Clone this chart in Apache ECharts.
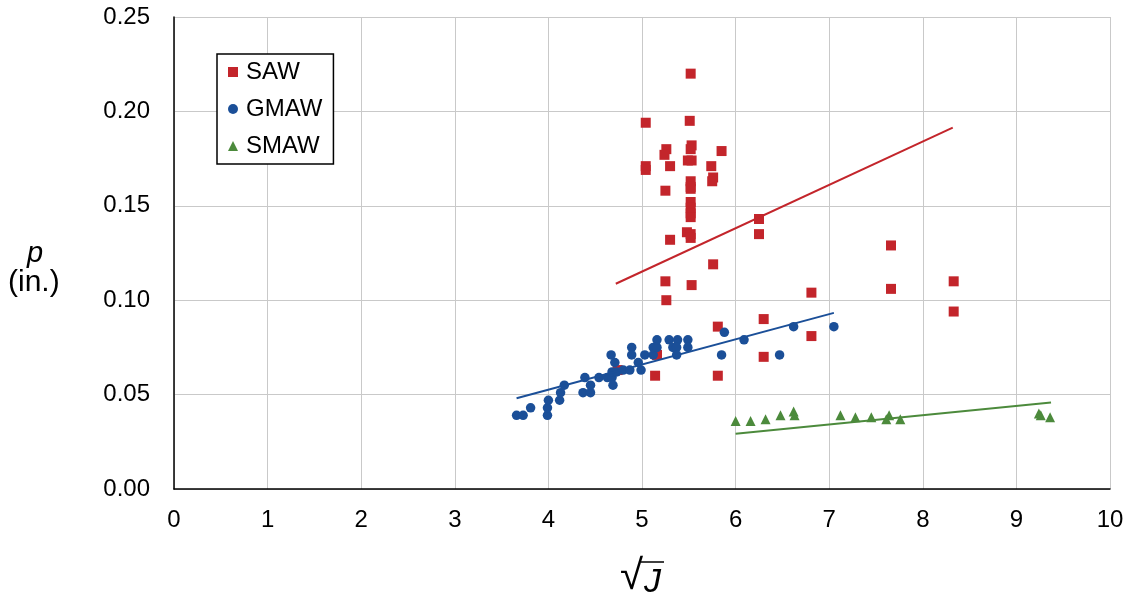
<!DOCTYPE html>
<html>
<head>
<meta charset="utf-8">
<script src="https://cdn.jsdelivr.net/npm/echarts@6/dist/echarts.min.js"></script>
<style>
  html, body { margin: 0; padding: 0; background: #fff; }
  #chart { width: 1130px; height: 597px; }
</style>
</head>
<body>
<div id="chart"></div>
<script>
// sqrt(J) vs p (in.)
var xTicks = [0, 1, 2, 3, 4, 5, 6, 7, 8, 9, 10];
var yTicks = [0, 0.05, 0.10, 0.15, 0.20, 0.25];

var sawX = [5.52, 5.04, 5.51, 5.53, 5.52, 5.26, 5.24, 5.49, 5.53, 5.85, 5.04, 5.04, 5.30, 5.74, 5.76, 5.75,
            5.52, 5.52, 5.52, 5.25, 5.52, 5.52, 5.52, 5.52, 5.48, 5.52, 5.52, 5.30, 6.25, 6.25, 5.76, 5.25,
            5.53, 5.26, 7.66, 7.66, 8.33, 8.33, 6.81, 6.30, 5.81, 6.81, 6.30, 5.81, 5.14, 5.16, 4.74];
var sawY = [0.220, 0.194, 0.195, 0.182, 0.180, 0.180, 0.177, 0.174, 0.174, 0.179, 0.171, 0.169, 0.171, 0.171, 0.165, 0.163,
            0.163, 0.160, 0.159, 0.158, 0.152, 0.149, 0.146, 0.144, 0.136, 0.135, 0.133, 0.132, 0.143, 0.135, 0.119, 0.110,
            0.108, 0.100, 0.129, 0.106, 0.110, 0.094, 0.104, 0.090, 0.086, 0.081, 0.070, 0.060, 0.060, 0.071, 0.063];

var gmawX = [3.66, 3.73, 3.81, 3.99, 3.99, 4.00, 4.12, 4.13, 4.17, 4.37, 4.45, 4.45, 4.39, 4.54, 4.63, 4.68,
             4.69, 4.68, 4.73, 4.71, 4.67, 4.80, 4.87, 4.96, 4.99, 4.89, 4.89, 5.03, 5.12, 5.12, 5.16, 5.16,
             5.29, 5.38, 5.49, 5.33, 5.37, 5.49, 5.37, 5.88, 5.85, 6.09, 6.62, 6.47, 7.05];
var gmawY = [0.039, 0.039, 0.043, 0.039, 0.043, 0.047, 0.047, 0.051, 0.055, 0.051, 0.051, 0.055, 0.059, 0.059, 0.059, 0.059,
             0.055, 0.062, 0.062, 0.067, 0.071, 0.063, 0.063, 0.067, 0.063, 0.075, 0.071, 0.071, 0.071, 0.075, 0.075, 0.079,
             0.079, 0.079, 0.079, 0.075, 0.075, 0.075, 0.071, 0.083, 0.071, 0.079, 0.086, 0.071, 0.086];

var smawX = [6.00, 6.16, 6.32, 6.48, 6.62, 6.63, 7.12, 7.28, 7.45, 7.64, 7.61, 7.76, 9.24, 9.26, 9.36];
var smawY = [0.036, 0.036, 0.037, 0.039, 0.041, 0.039, 0.039, 0.038, 0.038, 0.039, 0.037, 0.037, 0.040, 0.039, 0.038];

// trendline end points
var sawTrendX = [4.72, 8.32];
var sawTrendY = [0.1087, 0.1914];
var gmawTrendX = [3.66, 7.05];
var gmawTrendY = [0.0481, 0.0933];
var smawTrendX = [6.00, 9.37];
var smawTrendY = [0.0293, 0.0458];

var red = '#C3252B', blue = '#1B4F98', green = '#4C8A3C';
var font = 'Liberation Sans';

function pairs(xs, ys) {
  return xs.map(function (x, i) { return [x, ys[i]]; });
}

var chart = echarts.init(document.getElementById('chart'));
chart.setOption({
  animation: false,
  backgroundColor: '#fff',
  textStyle: { fontFamily: font },
  grid: { left: 174, right: 20, top: 17, bottom: 108 },
  legend: {
    data: ['SAW', 'GMAW', 'SMAW'],
    orient: 'vertical',
    left: 217, top: 54,
    padding: [6, 11, 6, 11],
    itemGap: 13,
    itemWidth: 10, itemHeight: 10,
    borderColor: '#000', borderWidth: 1.5, borderRadius: 0,
    backgroundColor: '#fff',
    textStyle: { fontSize: 24, color: '#000', fontFamily: font, lineHeight: 24, padding: [0, 0, 0, 3] }
  },
  xAxis: {
    type: 'value', min: xTicks[0], max: xTicks[xTicks.length - 1], interval: 1,
    axisLine: { lineStyle: { color: '#000', width: 1.5 } },
    axisTick: { show: false },
    axisLabel: { fontSize: 24, color: '#000', margin: 19, fontFamily: font },
    splitLine: { show: true, lineStyle: { color: '#c9c9c9', width: 1 } }
  },
  yAxis: {
    type: 'value', min: yTicks[0], max: yTicks[yTicks.length - 1], interval: 0.05,
    axisLine: { show: true, lineStyle: { color: '#000', width: 1.5 } },
    axisTick: { show: false },
    axisLabel: { fontSize: 24, color: '#000', margin: 24, fontFamily: font,
                 formatter: function (v) { return v.toFixed(2); } },
    splitLine: { show: true, lineStyle: { color: '#c9c9c9', width: 1 } }
  },
  graphic: [
    { type: 'text', left: 27, top: 239, style: { text: 'p', fontSize: 29, fontStyle: 'italic', fontFamily: font, fill: '#000' } },
    { type: 'text', left: 8, top: 268, style: { text: '(in.)', fontSize: 30, fontFamily: font, fill: '#000' } },
    { type: 'text', left: 620, top: 556, style: { text: '\u221A', fontSize: 42, fontFamily: font, fill: '#000' } },
    { type: 'text', left: 644, top: 566, style: { text: 'J', fontSize: 34, fontStyle: 'italic', fontFamily: font, fill: '#000' } },
    { type: 'line', shape: { x1: 641, y1: 562, x2: 664, y2: 562 }, style: { stroke: '#000', lineWidth: 1.5 } }
  ],
  series: [
    { name: 'SAW', type: 'scatter', symbol: 'rect', symbolSize: 10,
      itemStyle: { color: red, opacity: 1 }, data: pairs(sawX, sawY), z: 2 },
    { name: 'SMAW', type: 'scatter', symbol: 'triangle', symbolSize: 10,
      itemStyle: { color: green, opacity: 1 }, data: pairs(smawX, smawY), z: 3 },
    { name: 'GMAW', type: 'scatter', symbol: 'circle', symbolSize: 9.5,
      itemStyle: { color: blue, opacity: 1 }, data: pairs(gmawX, gmawY), z: 4 },
    { name: 'SAW trend', type: 'line', showSymbol: false, data: pairs(sawTrendX, sawTrendY),
      lineStyle: { color: red, width: 2 }, z: 5 },
    { name: 'GMAW trend', type: 'line', showSymbol: false, data: pairs(gmawTrendX, gmawTrendY),
      lineStyle: { color: blue, width: 2 }, z: 5 },
    { name: 'SMAW trend', type: 'line', showSymbol: false, data: pairs(smawTrendX, smawTrendY),
      lineStyle: { color: green, width: 2 }, z: 5 }
  ]
});
</script>
</body>
</html>
